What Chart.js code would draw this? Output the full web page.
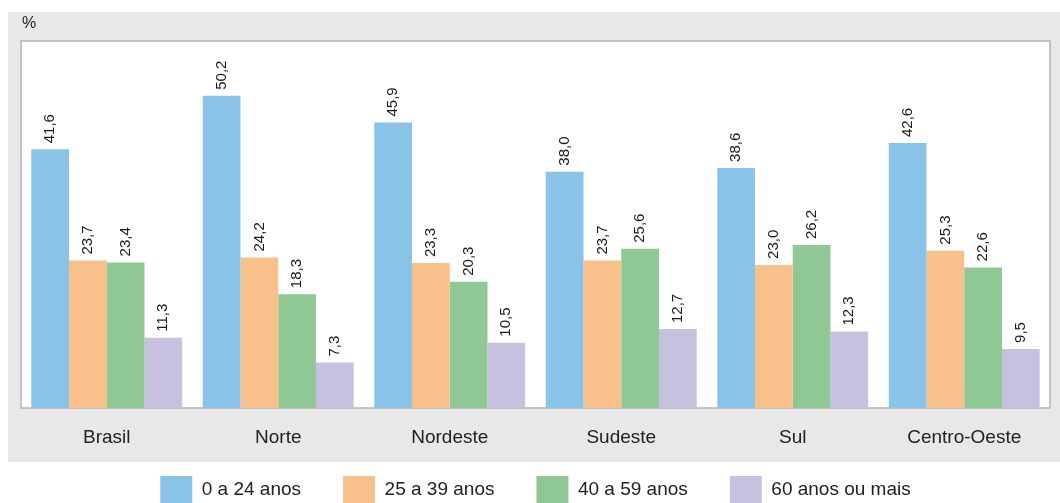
<!DOCTYPE html>
<html>
<head>
<meta charset="utf-8">
<script src="https://cdn.jsdelivr.net/npm/chart.js@4"></script>
<style>
  html, body { margin: 0; padding: 0; background: #fff; }
  #wrap { width: 1060px; height: 503px; overflow: hidden; }
</style>
</head>
<body>
<div id="wrap"><canvas id="myChart" width="1060" height="503"></canvas></div>
<script>
const regions = ["Brasil", "Norte", "Nordeste", "Sudeste", "Sul", "Centro-Oeste"];
const seriesNames = ["0 a 24 anos", "25 a 39 anos", "40 a 59 anos", "60 anos ou mais"];
const young = [41.6, 50.2, 45.9, 38.0, 38.6, 42.6];
const adults = [23.7, 24.2, 23.3, 23.7, 23.0, 25.3];
const middle = [23.4, 18.3, 20.3, 25.6, 26.2, 22.6];
const elders = [11.3, 7.3, 10.5, 12.7, 12.3, 9.5];
const barColors = ["#89c3e7", "#f8c08a", "#8fc895", "#c8c0df"];

const font = "'Liberation Sans', Arial, sans-serif";

// gray panel, white plot area, % label
const panel = {
  id: "panel",
  beforeDraw(chart) {
    const ctx = chart.ctx;
    const a = chart.chartArea;
    ctx.save();
    ctx.fillStyle = "#e8e8e8";
    ctx.fillRect(8, 12, 1052, 450);
    ctx.fillStyle = "#ffffff";
    ctx.fillRect(a.left, a.top, a.right - a.left, a.bottom - a.top);
    ctx.strokeStyle = "#b4b4b4";
    ctx.lineWidth = 1.5;
    ctx.strokeRect(a.left, a.top, a.right - a.left, a.bottom - a.top);
    ctx.fillStyle = "#222";
    ctx.font = "16px " + font;
    ctx.textBaseline = "middle";
    ctx.fillText("%", 22, 24);
    ctx.restore();
  }
};

// rotated value labels above bars
const valueLabels = {
  id: "valueLabels",
  afterDatasetsDraw(chart) {
    const ctx = chart.ctx;
    ctx.save();
    ctx.fillStyle = "#1a1a1a";
    ctx.font = "15px " + font;
    ctx.textBaseline = "middle";
    ctx.textAlign = "left";
    chart.data.datasets.forEach((ds, i) => {
      chart.getDatasetMeta(i).data.forEach((bar, j) => {
        const txt = ds.data[j].toFixed(1).replace(".", ",");
        ctx.save();
        ctx.translate(bar.x, bar.y - 6);
        ctx.rotate(-Math.PI / 2);
        ctx.fillText(txt, 0, 0);
        ctx.restore();
      });
    });
    ctx.restore();
  }
};

new Chart("myChart", {
  type: "bar",
  data: {
    labels: regions,
    datasets: [young, adults, middle, elders].map((d, i) => ({
      label: seriesNames[i],
      data: d,
      backgroundColor: barColors[i],
      borderWidth: 0,
      categoryPercentage: 0.88,
      barPercentage: 1.0
    }))
  },
  options: {
    responsive: false,
    animation: false,
    layout: { padding: { left: 21, top: 41, right: 10, bottom: -10 } },
    scales: {
      x: {
        grid: { display: false, drawTicks: false },
        border: { display: false },
        ticks: { color: "#222", padding: 18, font: { family: font, size: 19 } },
        afterFit(scale) {
          // short axis box so the legend sits lower; don't clip labels to it
          scale.height = 26;
          scale._computeLabelArea = () => undefined;
        }
      },
      y: {
        display: false,
        min: 0,
        max: 59
      }
    },
    plugins: {
      legend: {
        position: "bottom",
        labels: {
          boxWidth: 32,
          boxHeight: 27,
          padding: 42,
          color: "#222",
          font: { family: font, size: 19 }
        }
      },
      tooltip: { enabled: false }
    }
  },
  plugins: [panel, valueLabels]
});
</script>
</body>
</html>
